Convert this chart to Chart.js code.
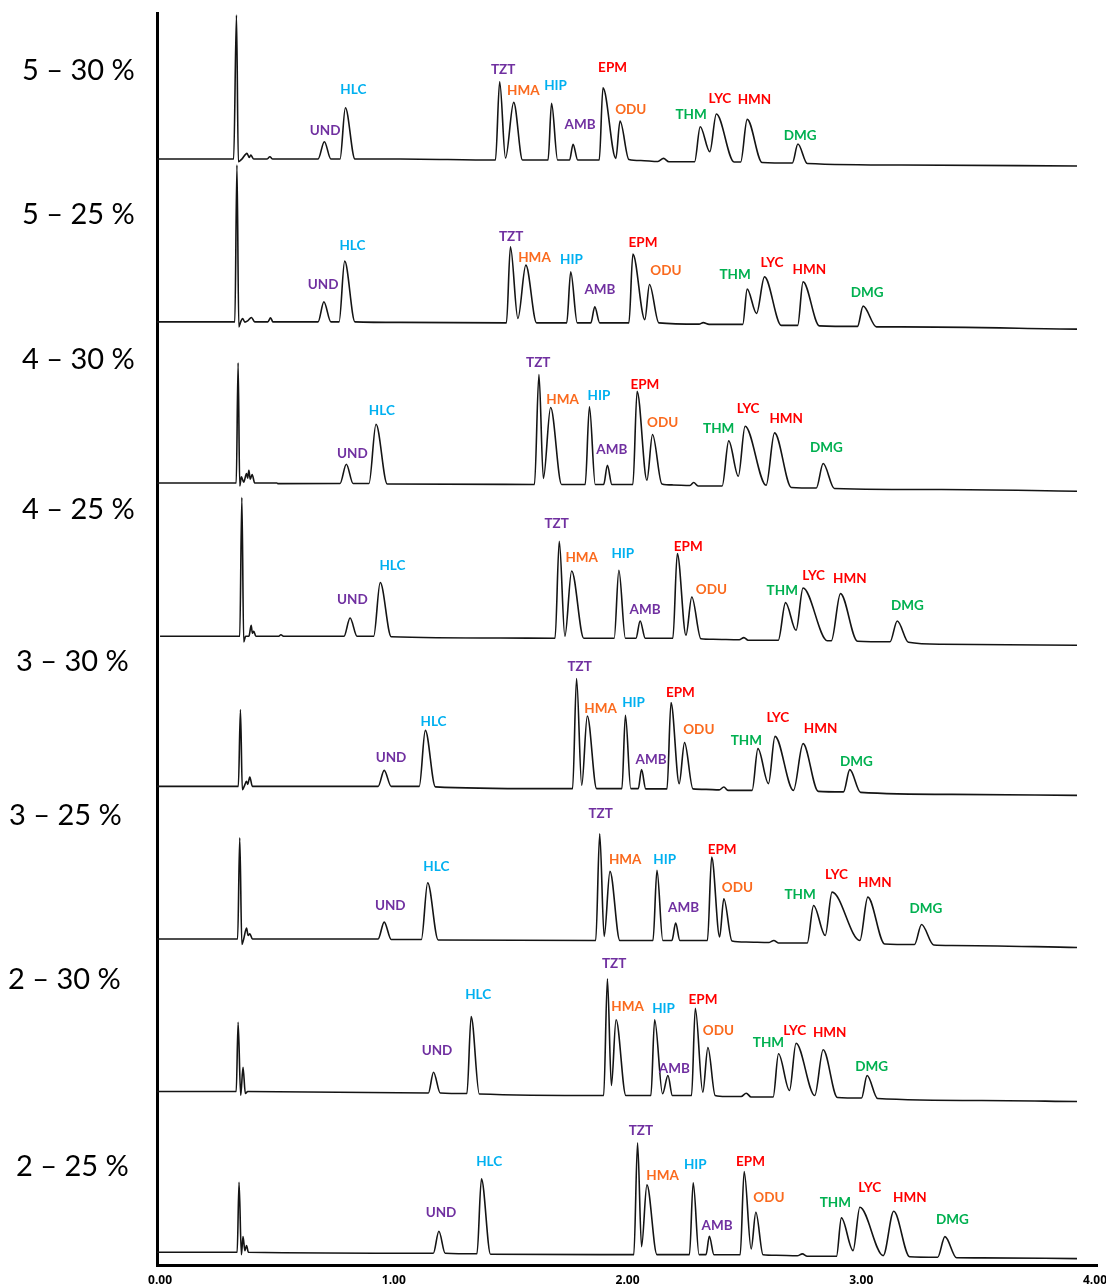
<!DOCTYPE html>
<html lang="en">
<head>
    <meta charset="UTF-8">
    <title>Gradient comparison chromatograms</title>
    <script src="https://cdn.jsdelivr.net/npm/chart.js"></script>
    <style>
        html, body { margin: 0; padding: 0; background: #fff; overflow: hidden; }
        #chrom { display: block; }
    </style>
</head>
<body>
    <!-- a little wider/taller than the window so the axis labels' own padding lands off-screen -->
    <canvas id="chrom" width="1115" height="1296"></canvas>

    <script>
        // gradient runs, top to bottom
        const runNames = ['5 – 30 %', '5 – 25 %', '4 – 30 %', '4 – 25 %', '3 – 30 %', '3 – 25 %', '2 – 30 %', '2 – 25 %'];
        const xTicks = [0, 1, 2, 3, 4];

        const compounds = ['UND', 'HLC', 'TZT', 'HMA', 'HIP', 'AMB', 'EPM', 'ODU', 'THM', 'LYC', 'HMN', 'DMG'];
        const compoundColors = ['#7030a0', '#00b0f0', '#7030a0', '#fa6a1e', '#00b0f0', '#7030a0',
                                '#ff0000', '#fa6a1e', '#00b050', '#ff0000', '#ff0000', '#00b050'];

        // [time (min), signal] for each run, signal relative to its own starting baseline
        const g5_30 = [[-0.02,0],[0.315,0],[0.327,144],[0.335,-2.7],[0.350,0],[0.372,5.7],[0.382,1.5],[0.388,4],[0.401,0],[0.457,0],[0.470,2.3],[0.482,0],
            [0.676,0],[0.703,17.3],[0.731,0],[0.770,0],[0.793,51.3],[0.834,0],[1.027,0],
            [1.435,-1],[1.453,77.3],[1.478,1],[1.513,56.7],[1.551,-1],
            [1.660,-1],[1.675,55.7],[1.701,-1],[1.752,-1],[1.767,14.7],[1.787,-1],
            [1.879,-1],[1.895,71.3],[1.950,0.7],[1.968,38],[2.006,-0.5],[2.057,-1.5],
            [2.130,-2.5],[2.154,0.7],[2.177,-2.7],
            [2.287,-2.7],[2.311,32.3],[2.352,7.3],[2.380,45],[2.456,-3],
            [2.484,-3],[2.512,39.7],[2.576,-3.5],
            [2.705,-4],[2.729,15],[2.769,-4.5],
            [3.172,-6],[3.923,-7]];

        const g5_25 = [[-0.02,0],[0.320,0],[0.329,156.7],[0.337,-5],[0.345,0],[0.353,3.4],[0.363,-0.3],[0.375,1],[0.391,4.4],[0.405,0],[0.461,0],[0.473,4],[0.483,0],
            [0.676,0],[0.701,20],[0.731,0],[0.766,0],[0.790,60.7],[0.834,0],[1.027,-0.5],
            [1.482,-1],[1.499,75],[1.531,3.4],[1.565,56.7],[1.611,-1],
            [1.740,-1],[1.757,50],[1.785,-1],[1.843,-1],[1.860,15],[1.881,-1],
            [2.006,-1],[2.023,67.7],[2.074,2.2],[2.094,37.4],[2.134,-1],
            [2.306,-2.3],[2.324,-0.8],[2.349,-2.5],
            [2.493,-2.5],[2.512,32.7],[2.552,8.4],[2.586,45],[2.658,-3.5],
            [2.728,-3.5],[2.751,40],[2.821,-4],
            [2.984,-4.5],[3.008,15.7],[3.065,-5],
            [3.172,-5],[3.923,-7.3]];

        const g4_30 = [[-0.02,0],[0.326,0],[0.334,120],[0.341,-3],[0.348,6],[0.358,0.7],[0.370,9.4],[0.375,4.7],[0.380,12.7],[0.386,3.7],[0.394,8.4],[0.405,0],[0.500,0],[0.504,-0.7],
            [0.770,-0.5],[0.797,18.7],[0.826,-0.5],[0.894,-0.5],[0.924,58.7],[0.972,-1],
            [1.602,-1.5],[1.621,108.4],[1.640,4.4],[1.671,75.4],[1.718,-1.5],
            [1.819,-1.5],[1.837,76],[1.862,-1.5],[1.898,-1.5],[1.914,17.7],[1.933,-1.5],
            [2.023,-1.5],[2.041,91.7],[2.083,2.7],[2.107,48.4],[2.147,-1],[2.194,-2],
            [2.267,-2.5],[2.283,0.4],[2.302,-3],
            [2.405,-3],[2.433,42],[2.474,6.7],[2.503,56.7],[2.593,-2.3],[2.629,50],[2.701,-4.5],
            [2.808,-5],[2.837,19.4],[2.885,-5.5],
            [3.344,-6.6],[3.923,-8.3]];

        const g4_25 = [[0,0],[0.341,0],[0.350,138.7],[0.358,-5.7],[0.366,0],[0.380,0],[0.390,11],[0.395,3],[0.401,5],[0.410,0],[0.508,0],[0.517,1.5],[0.530,0],
            [0.787,0],[0.813,18.3],[0.843,0],[0.914,0],[0.942,53.7],[0.989,-0.5],[1.456,-1.7],
            [1.690,-2],[1.708,95],[1.732,0],[1.761,65.3],[1.813,-2],
            [1.943,-2],[1.963,66],[1.991,-2],[2.036,-2],[2.054,15.3],[2.076,-2],
            [2.194,-2],[2.213,82.7],[2.250,1],[2.275,39.3],[2.314,-2.5],[2.366,-3],
            [2.478,-3.5],[2.498,-1.3],[2.516,-4],
            [2.645,-4],[2.676,33.7],[2.721,6],[2.751,48.3],[2.855,-4.5],
            [2.872,-4.5],[2.911,42.7],[2.984,-5],
            [3.123,-5.5],[3.154,15.3],[3.202,-6],
            [3.344,-8],[3.923,-9]];

        const g3_30 = [[-0.02,0],[0.335,0],[0.344,76.7],[0.352,-3.3],[0.360,0],[0.370,5],[0.375,2],[0.384,9.3],[0.395,0],
            [0.933,0],[0.959,16],[0.989,0],[1.109,0],[1.135,56],[1.178,-0.5],[1.628,-2.3],
            [1.765,-2.3],[1.782,107.7],[1.804,1],[1.828,70.3],[1.868,-2.3],
            [1.976,-2.3],[1.991,71],[2.014,-2.3],[2.046,-2.3],[2.060,16.7],[2.078,-2.5],
            [2.169,-2.5],[2.186,83.7],[2.221,2.7],[2.244,43.7],[2.280,-2.5],[2.336,-3],
            [2.392,-3.5],[2.412,-0.7],[2.430,-4],
            [2.533,-4],[2.558,37.7],[2.603,2.7],[2.631,50],[2.710,-4],
            [2.751,42.7],[2.816,-5],
            [2.924,-5.5],[2.951,16.7],[2.997,-6],
            [3.387,-8],[3.923,-9]];

        const g3_25 = [[-0.02,0],[0.332,0],[0.341,101.2],[0.350,-5.5],[0.358,0],[0.370,10.8],[0.377,3.5],[0.384,5.2],[0.395,0],
            [0.933,0],[0.959,16.8],[0.989,-0.5],[1.118,-0.5],[1.145,56.2],[1.190,-1],
            [1.864,-1.5],[1.881,105.2],[1.900,2.5],[1.925,67.5],[1.967,-1.5],
            [2.109,-1.5],[2.126,68.5],[2.151,-1.5],[2.190,-1.5],[2.206,15.8],[2.224,-1.5],
            [2.342,-1.5],[2.360,81.8],[2.394,2],[2.412,40.2],[2.447,-2],[2.507,-3],
            [2.606,-3.5],[2.626,-1.5],[2.645,-4],
            [2.769,-4],[2.796,33.5],[2.846,3.5],[2.875,46.8],[2.994,-1.5],
            [3.028,41.8],[3.100,-5],
            [3.228,-5.5],[3.258,14.5],[3.310,-6],
            [3.387,-6.5],[3.923,-8.5]];

        const g2_30 = [[-0.02,0],[0.326,0],[0.334,69.3],[0.345,-4],[0.355,24.3],[0.365,-2],[0.375,0],
            [1.148,-1.5],[1.170,19.3],[1.199,-1.5],[1.313,-2],[1.331,75],[1.366,-2.5],
            [1.898,-4],[1.914,112.7],[1.931,6],[1.951,71.7],[1.993,-4],
            [2.100,-4],[2.116,71.7],[2.150,-2.3],[2.173,16],[2.192,-4],
            [2.274,-4],[2.290,83.3],[2.322,-0.7],[2.344,44],[2.375,-4],[2.421,-5],
            [2.486,-5],[2.508,-1.7],[2.529,-5.5],
            [2.623,-5.5],[2.646,37.7],[2.693,1],[2.721,48.3],[2.801,-4],
            [2.837,41.7],[2.898,-6],
            [3.001,-6.5],[3.025,16],[3.070,-7],
            [3.515,-9],[3.923,-10]];

        const g2_25 = [[-0.02,0],[0.330,0],[0.338,70],[0.348,-2.3],[0.355,15.7],[0.363,1.7],[0.370,6.7],[0.378,0],
            [1.169,-1],[1.193,21],[1.220,-1],[1.356,-1.5],[1.375,73.4],[1.414,-2],
            [2.027,-2.3],[2.043,109.4],[2.060,5.7],[2.083,67.4],[2.126,-2.3],
            [2.265,-2.3],[2.281,69.4],[2.306,-2.3],[2.336,-2.3],[2.350,16],[2.370,-2.5],
            [2.482,-2.5],[2.499,80.7],[2.529,3.4],[2.549,40],[2.580,-2.5],[2.636,-3],
            [2.726,-3.5],[2.748,-1.6],[2.769,-4],
            [2.894,-4],[2.915,34.4],[2.965,1.7],[2.994,45],[3.094,-3.3],
            [3.139,41],[3.207,-4.5],
            [3.327,-5],[3.358,15.7],[3.408,-5.5],
            [3.515,-5.6],[3.923,-6.3]];

        // where each compound name sits for each run: [time, signal], same order as compounds
        const lab5_30 = [[0.706,28.3],[0.827,69.7],[1.468,89],[1.554,68.3],[1.692,73],[1.797,34],[1.936,91.7],[2.014,49],[2.272,44],[2.395,60.7],[2.543,59.7],[2.739,23]];
        const lab5_25 = [[0.698,36.7],[0.823,75.7],[1.502,85],[1.602,64.4],[1.760,62.4],[1.882,31.7],[2.066,79],[2.164,51],[2.460,47.4],[2.618,59.4],[2.778,52.4],[3.025,29]];
        const lab4_30 = [[0.823,29.4],[0.949,72],[1.618,120],[1.722,83.7],[1.878,87],[1.933,33.4],[2.074,98.7],[2.150,60.4],[2.390,54],[2.516,74],[2.679,64.4],[2.851,35.4]];
        const lab4_25 = [[0.823,37],[0.994,70.3],[1.697,112.7],[1.804,78.7],[1.980,83],[2.075,26.7],[2.260,89.3],[2.359,46.7],[2.662,46],[2.796,60.3],[2.951,57.7],[3.197,30.7]];
        const lab3_30 = [[0.988,28.7],[1.170,64.3],[1.795,119.3],[1.885,77.7],[2.026,83.7],[2.101,27],[2.226,93.3],[2.305,56.7],[2.508,46],[2.643,68.3],[2.826,57.7],[2.979,24.3]];
        const lab3_25 = [[0.985,33.5],[1.182,71.8],[1.885,125.2],[1.990,79.2],[2.159,79.2],[2.240,30.8],[2.405,89.5],[2.470,51.2],[2.738,44.2],[2.894,64.5],[3.058,56.2],[3.277,29.8]];
        const lab2_30 = [[1.185,41],[1.361,97],[1.943,127.7],[2.000,85],[2.154,82.7],[2.200,23.3],[2.323,91.7],[2.389,61],[2.603,49.3],[2.715,61],[2.865,59.3],[3.044,25]];
        const lab2_25 = [[1.202,40],[1.408,91],[2.057,121.7],[2.150,76.7],[2.290,87.4],[2.383,26.7],[2.526,91],[2.605,54.4],[2.889,50],[3.036,65],[3.208,54.4],[3.390,32.4]];

        const runs = [g5_30, g5_25, g4_30, g4_25, g3_30, g3_25, g2_30, g2_25];
        const runLabels = [lab5_30, lab5_25, lab4_30, lab4_25, lab3_30, lab3_25, lab2_30, lab2_25];

        // vertical stacking of the runs on the shared intensity axis
        const stackOffsets = [1106, 943.3, 782.3, 629, 479, 326.5, 174, 13.3];
        // left-hand run names, canvas px [left, middle]
        const runNamePos = [[22, 71], [22, 215], [22, 360], [22, 510], [16, 662], [9, 816], [8, 980], [16, 1167]];

        const datasets = runs.map((pts, i) => ({
            label: runNames[i],
            data: pts.map(([t, s]) => ({ x: t, y: s + stackOffsets[i] })),
            borderColor: '#141414',
            borderWidth: 1.6,
            pointRadius: 0,
            fill: false,
            cubicInterpolationMode: 'monotone'
        }));

        const annotate = {
            id: 'annotate',
            afterDatasetsDraw(chart) {
                const { ctx, scales: { x, y } } = chart;
                ctx.save();
                ctx.textAlign = 'center';
                ctx.textBaseline = 'middle';
                ctx.font = 'bold 13.5px Lato, "Open Sans", sans-serif';
                runLabels.forEach((spots, i) => {
                    spots.forEach(([t, s], j) => {
                        ctx.fillStyle = compoundColors[j];
                        ctx.fillText(compounds[j], x.getPixelForValue(t), y.getPixelForValue(stackOffsets[i] + s));
                    });
                });
                ctx.textAlign = 'left';
                ctx.fillStyle = '#000';
                ctx.font = '29px Lato, "Open Sans", sans-serif';
                runNames.forEach((name, i) => {
                    ctx.fillText(name, runNamePos[i][0], runNamePos[i][1]);
                });
                ctx.restore();
            }
        };

        const ctx = document.getElementById('chrom').getContext('2d');
        const chart = new Chart(ctx, {
            type: 'line',
            data: { datasets },
            options: {
                responsive: false,
                animation: false,
                events: [],
                layout: { padding: { left: 157, top: 13, right: 0, bottom: 0 } },
                plugins: {
                    legend: { display: false },
                    tooltip: { enabled: false }
                },
                scales: {
                    x: {
                        type: 'linear',
                        min: -0.013,
                        max: 4.01,
                        afterBuildTicks: s => { s.ticks = xTicks.map(v => ({ value: v })); },
                        grid: { display: false, drawTicks: false },
                        border: { display: true, color: '#000', width: 3 },
                        ticks: {
                            padding: 8,
                            color: '#000',
                            autoSkip: false,
                            maxRotation: 0,
                            font: { family: 'Open Sans', weight: 'bold', size: 12 },
                            callback: v => v.toFixed(2)
                        }
                    },
                    y: {
                        min: 0,
                        max: 1252,
                        grid: { display: false, drawTicks: false },
                        border: { display: true, color: '#000', width: 3 },
                        ticks: { display: false }
                    }
                }
            },
            plugins: [annotate]
        });
    </script>
</body>
</html>
